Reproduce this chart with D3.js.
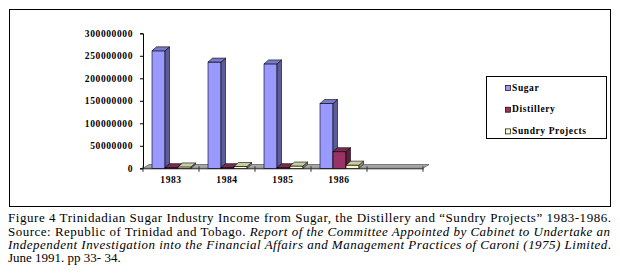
<!DOCTYPE html>
<html>
<head>
<meta charset="utf-8">
<script src="https://cdn.jsdelivr.net/npm/d3@7"></script>
<style>
  body { margin: 0; background: #fff; }
</style>
</head>
<body>
<script>
const WIDTH = 620;
const HEIGHT = 278;
const SERIF = "'Liberation Serif', 'Times New Roman', Times, serif";

// data
const years = ["1983", "1984", "1985", "1986"];
const categories = ["1983", "1984", "1985", "1986", ""]; // excel left an empty 5th slot
const seriesNames = ["Sugar", "Distillery", "Sundry Projects"];
const sugar = [261000000, 236000000, 232000000, 144000000];
const distillery = [1500000, 1500000, 1500000, 37000000];
const sundry = [3000000, 4000000, 5000000, 7000000];
const yTicks = [0, 50000000, 100000000, 150000000, 200000000, 250000000, 300000000];

const COLORS = {
    "Sugar": {front: "#9999ff", side: "#5c5c99", top: "#7a7acc"},
    "Distillery": {front: "#993366", side: "#5c1f3d", top: "#7a2952"},
    "Sundry Projects": {front: "#ffffcc", side: "#99997a", top: "#cccca3"}
};

const PLOT = {LEFT: 143, RIGHT: 423, TOP: 33.3, BOTTOM: 168.3};
const DEPTH = {X: 4.5, Y: -4};

var svg = d3.select("body").append("svg")
    .attr("width", WIDTH)
    .attr("height", HEIGHT);

// outer frame
svg.append("rect")
    .attr("x", 9.5).attr("y", 9.5)
    .attr("width", 601).attr("height", 197)
    .attr("fill", "none")
    .attr("stroke", "#000")
    .attr("stroke-width", 1);

var xScale = d3.scaleBand()
    .domain(categories)
    .range([PLOT.LEFT, PLOT.RIGHT]);

var xInner = d3.scaleBand()
    .domain(seriesNames)
    .range([9, 48]);

var yScale = d3.scaleLinear()
    .domain([0, 300000000])
    .range([PLOT.BOTTOM, PLOT.TOP]);

// floor
var y0 = yScale(0);
svg.append("polygon")
    .attr("points", [
        [PLOT.LEFT, y0], [PLOT.LEFT + 6, y0 - 3.8],
        [PLOT.RIGHT + 6, y0 - 3.8], [PLOT.RIGHT, y0]
    ].map(p => p.join(",")).join(" "))
    .attr("fill", "#a6a6a6")
    .attr("stroke", "#555")
    .attr("stroke-width", 0.7);

function tickText(sel) {
    sel.style("font-family", SERIF)
        .style("font-size", "9.5px")
        .style("font-weight", "bold")
        .style("letter-spacing", "0.6px")
        .attr("fill", "#000");
}

// y axis
var yAxis = d3.axisLeft(yScale)
    .tickValues(yTicks)
    .tickSize(3)
    .tickPadding(7)
    .tickFormat(d3.format("d"));

var gy = svg.append("g")
    .attr("transform", "translate(" + PLOT.LEFT + ",0)")
    .call(yAxis);
gy.select(".domain").attr("stroke", "#000");
gy.selectAll("text").call(tickText);

// x axis
var xAxis = d3.axisBottom(xScale)
    .tickSize(0)
    .tickPadding(8);

var gx = svg.append("g")
    .attr("transform", "translate(0," + y0 + ")")
    .call(xAxis);
gx.select(".domain").attr("stroke", "#333");
gx.selectAll("text").call(tickText);

// tick marks between categories
gx.selectAll(".sep")
    .data(categories.concat(["end"]))
    .enter().append("line")
    .attr("x1", (d, i) => PLOT.LEFT + i * xScale.bandwidth())
    .attr("x2", (d, i) => PLOT.LEFT + i * xScale.bandwidth())
    .attr("y1", -2)
    .attr("y2", 3.5)
    .attr("stroke", "#333");

// bars, left to right so each front face covers the previous side face
var rows = [];
years.forEach(function(year, i) {
    rows.push({year: year, name: "Sugar", value: sugar[i]});
    rows.push({year: year, name: "Distillery", value: distillery[i]});
    rows.push({year: year, name: "Sundry Projects", value: sundry[i]});
});

var bars = svg.append("g").selectAll("g")
    .data(rows)
    .enter().append("g");

function pts(a) {
    return a.map(p => p.join(",")).join(" ");
}

bars.each(function(d) {
    var g = d3.select(this);
    var x = xScale(d.year) + xInner(d.name);
    var w = xInner.bandwidth();
    var yt = yScale(d.value);
    var c = COLORS[d.name];

    g.append("rect")
        .attr("x", x).attr("y", yt)
        .attr("width", w).attr("height", y0 - yt)
        .attr("fill", c.front)
        .attr("stroke", "#000")
        .attr("stroke-width", 0.6);

    g.append("polygon")
        .attr("points", pts([[x + w, yt], [x + w + DEPTH.X, yt + DEPTH.Y],
            [x + w + DEPTH.X, y0 + DEPTH.Y], [x + w, y0]]))
        .attr("fill", c.side)
        .attr("stroke", "#000")
        .attr("stroke-width", 0.6);

    g.append("polygon")
        .attr("points", pts([[x, yt], [x + DEPTH.X, yt + DEPTH.Y],
            [x + w + DEPTH.X, yt + DEPTH.Y], [x + w, yt]]))
        .attr("fill", c.top)
        .attr("stroke", "#000")
        .attr("stroke-width", 0.6);
});

// legend
var legend = svg.append("g");
legend.append("rect")
    .attr("x", 486.5).attr("y", 76.5)
    .attr("width", 120).attr("height", 62)
    .attr("fill", "#fff")
    .attr("stroke", "#000")
    .attr("stroke-width", 1);

var items = legend.selectAll(".item")
    .data(seriesNames)
    .enter().append("g")
    .attr("transform", (d, i) => "translate(505," + (85 + i * 21.7) + ")");

items.append("rect")
    .attr("x", 0.5).attr("y", 0.5)
    .attr("width", 5).attr("height", 5)
    .attr("fill", d => COLORS[d].front)
    .attr("stroke", "#000")
    .attr("stroke-width", 0.7);

items.append("text")
    .attr("x", 7)
    .attr("y", 5.5)
    .call(tickText)
    .text(d => d);

// caption
function capText(sel) {
    sel.style("font-family", SERIF)
        .style("font-size", "13px")
        .attr("fill", "#000");
}

svg.append("text")
    .attr("x", 8).attr("y", 222)
    .call(capText)
    .attr("textLength", 603)
    .attr("lengthAdjust", "spacing")
    .text("Figure 4 Trinidadian Sugar Industry Income from Sugar, the Distillery and \u201cSundry Projects\u201d 1983-1986.");

var l2 = svg.append("text")
    .attr("x", 8).attr("y", 235.5)
    .call(capText)
    .attr("textLength", 602)
    .attr("lengthAdjust", "spacing");
l2.append("tspan").text("Source: Republic of Trinidad and Tobago. ");
l2.append("tspan").style("font-style", "italic")
    .text("Report of the Committee Appointed by Cabinet to Undertake an");

var l3 = svg.append("text")
    .attr("x", 8).attr("y", 249)
    .call(capText)
    .attr("textLength", 603)
    .attr("lengthAdjust", "spacing");
l3.append("tspan").style("font-style", "italic")
    .text("Independent Investigation into the Financial Affairs and Management Practices of Caroni (1975) Limited");
l3.append("tspan").text(".");

svg.append("text")
    .attr("x", 8).attr("y", 262)
    .call(capText)
    .text("June 1991. pp 33- 34.");
</script>
</body>
</html>
